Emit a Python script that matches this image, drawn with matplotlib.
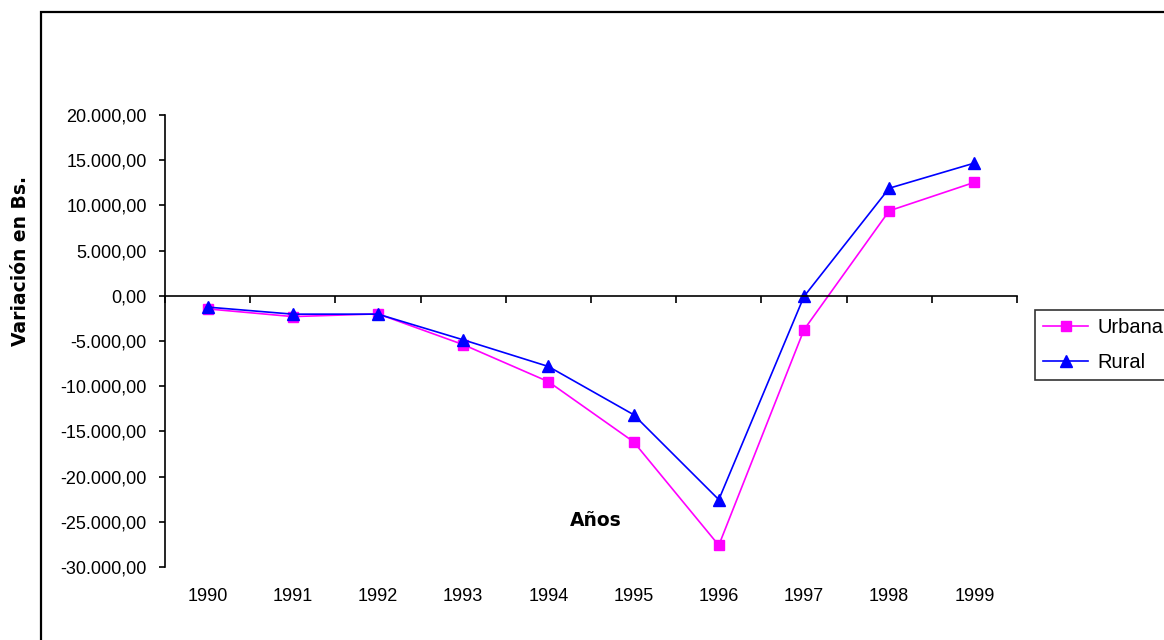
import matplotlib.pyplot as plt
from matplotlib.patches import Rectangle
from matplotlib.ticker import FuncFormatter

years = ["1990", "1991", "1992", "1993", "1994", "1995", "1996", "1997", "1998", "1999"]
urbana = [-1450, -2300, -2000, -5400, -9500, -16150, -27600, -3750, 9400, 12550]
rural = [-1250, -2030, -2030, -4870, -7820, -13150, -22550, -70, 11900, 14680]

plt.rcParams['font.family'] = ['Liberation Sans', 'DejaVu Sans']

fig = plt.figure(figsize=(11.64, 6.4), dpi=100)
ax = fig.add_axes([165 / 1164, 1 - 567 / 640, (1017 - 165) / 1164, (567 - 115) / 640])

x = list(range(len(years)))
ax.plot(x, urbana, color='#FF00FF', lw=1.2, marker='s', ms=7, mec='#FF00FF', label='Urbana')
ax.plot(x, rural, color='#0000FF', lw=1.2, marker='^', ms=8, mec='#0000FF', label='Rural')

ax.set_xlim(-0.5, len(years) - 0.5)
ax.set_ylim(-30000, 20000)
ax.set_yticks(range(-30000, 20001, 5000))


def fmt(v, pos):
    s = f"{abs(v):,.2f}".replace(",", "X").replace(".", ",").replace("X", ".")
    return ("-" if v < 0 else "") + s


ax.yaxis.set_major_formatter(FuncFormatter(fmt))
ax.tick_params(axis='y', direction='out', length=4, width=1.2, labelsize=13, pad=9)

# x axis at zero, ticks between categories
ax.spines['bottom'].set_position(('data', 0))
ax.spines['top'].set_visible(False)
ax.spines['right'].set_visible(False)
ax.spines['left'].set_linewidth(1.2)
ax.spines['bottom'].set_linewidth(1.2)
ax.set_xticks([i + 0.5 for i in range(-1, len(years))])
ax.set_xticklabels([])
ax.tick_params(axis='x', direction='out', length=5, width=1.2)

trans = ax.get_xaxis_transform()
for i, yr in enumerate(years):
    ax.text(i, -0.065, yr, transform=trans, ha='center', va='center', fontsize=13)

ax.text(596 / 1164, 1 - 520 / 640, "Años", transform=fig.transFigure, ha='center', va='center',
        fontsize=13.5, fontweight='bold', family='DejaVu Sans')
fig.text(21 / 1164, 1 - 261 / 640, "Variación en Bs.", rotation=90, ha='center', va='center',
         fontsize=13.5, fontweight='bold', family='DejaVu Sans')

# outer chart border (cut off on right and bottom)
top = 1 - 12 / 640
fig.patches.append(Rectangle((41 / 1164, -0.2), 1.2, top + 0.2, transform=fig.transFigure,
                             fill=False, edgecolor='black', lw=1.6))

leg = fig.legend(loc='upper left', bbox_to_anchor=(1035 / 1164, 1 - 310 / 640), fontsize=14.5,
                 frameon=True, fancybox=False, edgecolor='black', borderpad=0.4,
                 handlelength=2.25, handletextpad=0.45, labelspacing=0.8, borderaxespad=0)
leg.get_frame().set_linewidth(1.2)

fig.savefig("out.png", dpi=100)
